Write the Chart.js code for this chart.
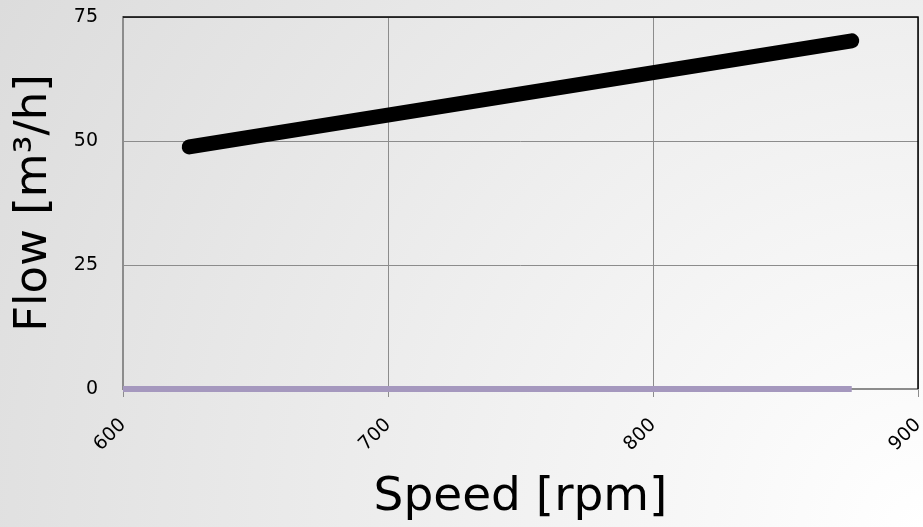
<!DOCTYPE html>
<html>
<head>
<meta charset="utf-8">
<script src="https://cdn.jsdelivr.net/npm/chart.js@4.4.1/dist/chart.umd.min.js"></script>
<style>
  html, body { margin: 0; padding: 0; }
  body {
    width: 923px; height: 527px; overflow: hidden;
    background: radial-gradient(circle at 100% 100%, #ffffff 0px, #dcdcdc 1063px);
  }
  #wrap { position: relative; width: 923px; height: 527px; }
</style>
</head>
<body>
<div id="wrap"><canvas id="c" width="923" height="527"></canvas></div>
<script>
// Data
const flowSpeeds = [625, 875];
const flowValues = [48.8, 70.2];
const baseSpeeds = [600, 875];
const baseValues = [0, 0];
const xTicks = [600, 700, 800, 900];
const yTicks = [0, 25, 50, 75];

const frame = {
  id: 'frame',
  afterDraw(chart) {
    const {ctx, chartArea: a} = chart;
    ctx.save();
    ctx.strokeStyle = '#000';
    ctx.lineWidth = 1.5;
    ctx.beginPath();
    ctx.moveTo(a.left, a.top);
    ctx.lineTo(a.right, a.top);
    ctx.lineTo(a.right, a.bottom);
    ctx.stroke();
    ctx.restore();
  }
};

new Chart(document.getElementById('c'), {
  type: 'line',
  data: {
    datasets: [
      {
        data: baseSpeeds.map((x, i) => ({x, y: baseValues[i]})),
        borderColor: '#a598be',
        borderWidth: 6,
        borderCapStyle: 'butt',
        pointRadius: 0,
        clip: 10,
        order: 2
      },
      {
        data: flowSpeeds.map((x, i) => ({x, y: flowValues[i]})),
        borderColor: '#000000',
        borderWidth: 15,
        borderCapStyle: 'round',
        pointRadius: 0,
        clip: 20,
        order: 1
      }
    ]
  },
  options: {
    responsive: false,
    animation: false,
    devicePixelRatio: 1,
    layout: { padding: { top: 17, right: 5, left: 0, bottom: 0 } },
    plugins: { legend: { display: false }, tooltip: { enabled: false } },
    scales: {
      x: {
        type: 'linear',
        min: 600, max: 900,
        afterBuildTicks: s => { s.ticks = xTicks.map(v => ({value: v})); },
        afterFit: s => { s.height = 138; s.paddingLeft = 0; s.paddingRight = 0; },
        grid: { color: '#8c8c8c', lineWidth: 1, tickLength: 8, drawTicks: true },
        border: { color: '#8c8c8c', width: 1.5 },
        ticks: {
          minRotation: 45, maxRotation: 45,
          color: '#000', padding: 17,
          font: { family: 'DejaVu Sans', size: 19 }
        },
        title: {
          display: true, text: 'Speed [rpm]', color: '#000',
          font: { family: 'DejaVu Sans', size: 47, lineHeight: 1 },
          padding: { top: 0, bottom: 6 }
        }
      },
      y: {
        type: 'linear',
        min: 0, max: 75,
        afterBuildTicks: s => { s.ticks = yTicks.map(v => ({value: v})); },
        afterFit: s => { s.width = 123; s.paddingTop = 0; s.paddingBottom = 0; },
        grid: { color: '#8c8c8c', lineWidth: 1, drawTicks: false, tickLength: 0 },
        border: { color: '#8c8c8c', width: 1.5 },
        ticks: {
          color: '#000', padding: 25,
          font: { family: 'DejaVu Sans', size: 19 }
        },
        title: {
          display: true, text: 'Flow [m³/h]', color: '#000',
          font: { family: 'DejaVu Sans', size: 45, lineHeight: 1 },
          padding: { top: 12, bottom: 0 }
        }
      }
    }
  },
  plugins: [frame]
});
</script>
</body>
</html>
